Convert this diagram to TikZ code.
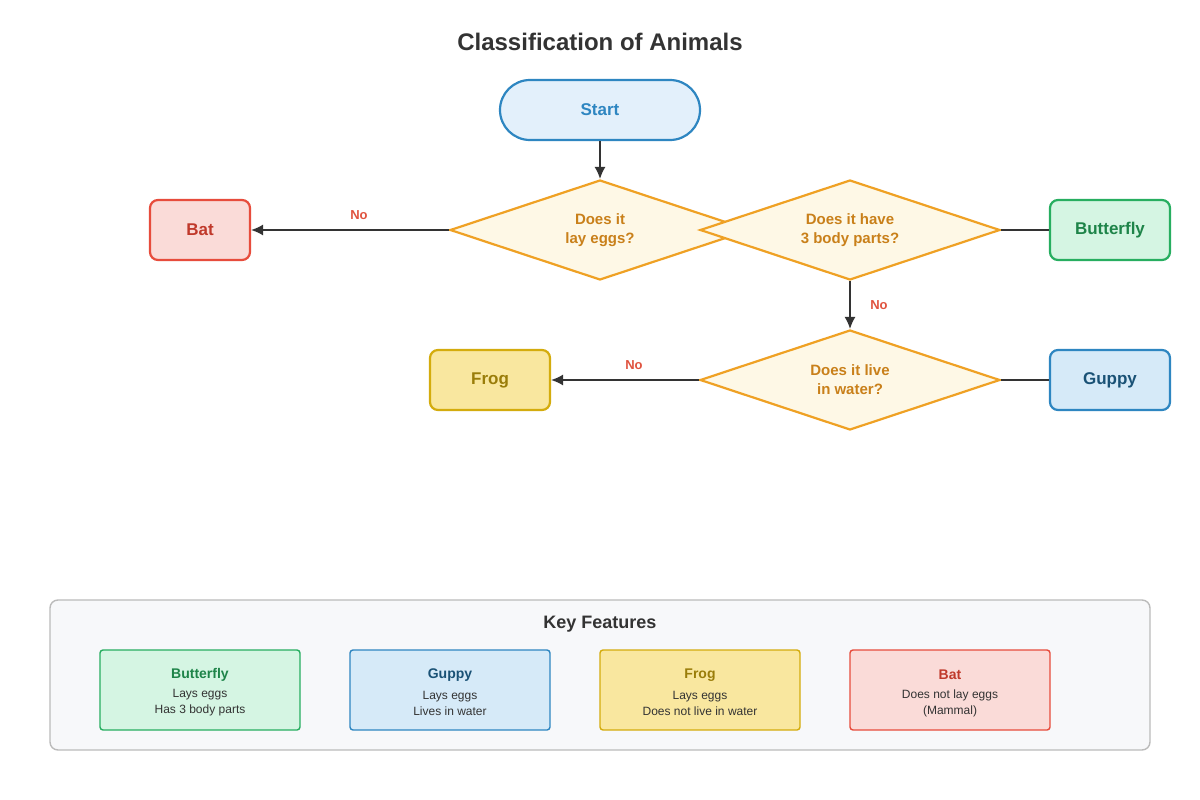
\documentclass[tikz,border=0pt]{standalone}
\usepackage{fontspec}
\setmainfont{Liberation Sans}
\usetikzlibrary{shapes.geometric,arrows.meta}
\definecolor{txt}{HTML}{333333}
\definecolor{bstroke}{HTML}{2E86C1}\definecolor{bfill}{HTML}{E3F0FB}
\definecolor{dstroke}{HTML}{EFA124}\definecolor{dfill}{HTML}{FEF8E6}\definecolor{dtext}{HTML}{C9801A}
\definecolor{rstroke}{HTML}{E74C3C}\definecolor{rfill}{HTML}{FADBD8}\definecolor{rtext}{HTML}{C0392B}
\definecolor{gstroke}{HTML}{27AE60}\definecolor{gfill}{HTML}{D5F5E3}\definecolor{gtext}{HTML}{1E8449}
\definecolor{ystroke}{HTML}{D4AC0D}\definecolor{yfill}{HTML}{F9E79F}\definecolor{ytext}{HTML}{9A7D0A}
\definecolor{ufill}{HTML}{D6EAF8}\definecolor{utext}{HTML}{1A5276}
\definecolor{kfill}{HTML}{F7F8FA}\definecolor{kstroke}{HTML}{BBBBBB}
\definecolor{nored}{HTML}{E0533F}
\begin{document}
\begin{tikzpicture}[x=1pt,y=-1pt,
  box/.style={rounded corners=8pt,line width=2.2pt,minimum height=60pt,font=\bfseries\fontsize{17}{20}\selectfont,inner sep=0pt},
  dia/.style={diamond,draw=dstroke,fill=dfill,line width=2.2pt,minimum width=300pt,minimum height=100pt,aspect=3,inner sep=0pt,text=dtext,align=center,font=\bfseries\fontsize{15}{19}\selectfont},
  arr/.style={draw=txt,line width=1.4pt,-{Latex[length=12pt,width=11pt]}},
  ln/.style={draw=txt,line width=1.4pt},
  no/.style={text=nored,font=\bfseries\fontsize{13}{15}\selectfont},
  key/.style={rounded corners=3pt,line width=1.4pt,minimum width=200pt,minimum height=80pt,inner sep=0pt},
  ktitle/.style={font=\bfseries\fontsize{14}{16}\selectfont},
  kbody/.style={text=txt,align=center,font=\fontsize{12}{16}\selectfont}]
\useasboundingbox (0,0) rectangle (1200,800);
\fill[white] (0,0) rectangle (1200,800);
\node[text=txt,font=\bfseries\fontsize{24}{28}\selectfont] (title) at (600,42) {Classification of Animals};
\node[box,rounded corners=30pt,draw=bstroke,fill=bfill,text=bstroke,minimum width=200pt] (start) at (600,110) {Start};
\node[dia] (d1) at (600,230) {Does it\\lay eggs?};
\node[dia] (d2) at (850,230) {Does it have\\3 body parts?};
\node[dia] (d3) at (850,380) {Does it live\\in water?};
\node[box,draw=rstroke,fill=rfill,text=rtext,minimum width=100pt] (bat) at (200,230) {Bat};
\node[box,draw=gstroke,fill=gfill,text=gtext,minimum width=120pt] (bfly) at (1110,230) {Butterfly};
\node[box,draw=ystroke,fill=yfill,text=ytext,minimum width=120pt] (frog) at (490,380) {Frog};
\node[box,draw=bstroke,fill=ufill,text=utext,minimum width=120pt] (guppy) at (1110,380) {Guppy};
\draw[arr] (start) -- (d1);
\draw[arr] (d1.west) -- (bat.east);
\node[no] (n1) at (359,215) {No};
\draw[ln] (d2.east) -- (bfly.west);
\draw[arr] (d2.south) -- (d3.north);
\node[no] (n2) at (879,305) {No};
\draw[arr] (d3.west) -- (frog.east);
\node[no] (n3) at (634,365) {No};
\draw[ln] (d3.east) -- (guppy.west);
\node[draw=kstroke,fill=kfill,line width=1.4pt,rounded corners=8pt,minimum width=1100pt,minimum height=150pt] (kb) at (600,675) {};
\node[text=txt,font=\bfseries\fontsize{18}{20}\selectfont] (kt) at (600,624) {Key Features};
\node[key,draw=gstroke,fill=gfill] (k1) at (200,690) {};
\node[key,draw=bstroke,fill=ufill] (k2) at (450,690) {};
\node[key,draw=ystroke,fill=yfill] (k3) at (700,690) {};
\node[key,draw=rstroke,fill=rfill] (k4) at (950,690) {};
\node[ktitle,text=gtext] (k1t) at (200,675) {Butterfly};
\node[ktitle,text=utext] (k2t) at (450,675) {Guppy};
\node[ktitle,text=ytext] (k3t) at (700,675) {Frog};
\node[ktitle,text=rtext] (k4t) at (950,675) {Bat};
\node[kbody] (k1b) at (200,703) {Lays eggs\\Has 3 body parts};
\node[kbody] (k2b) at (450,703) {Lays eggs\\Lives in water};
\node[kbody] (k3b) at (700,703) {Lays eggs\\Does not live in water};
\node[kbody] (k4b) at (950,703) {Does not lay eggs\\(Mammal)};
\end{tikzpicture}
\end{document}
